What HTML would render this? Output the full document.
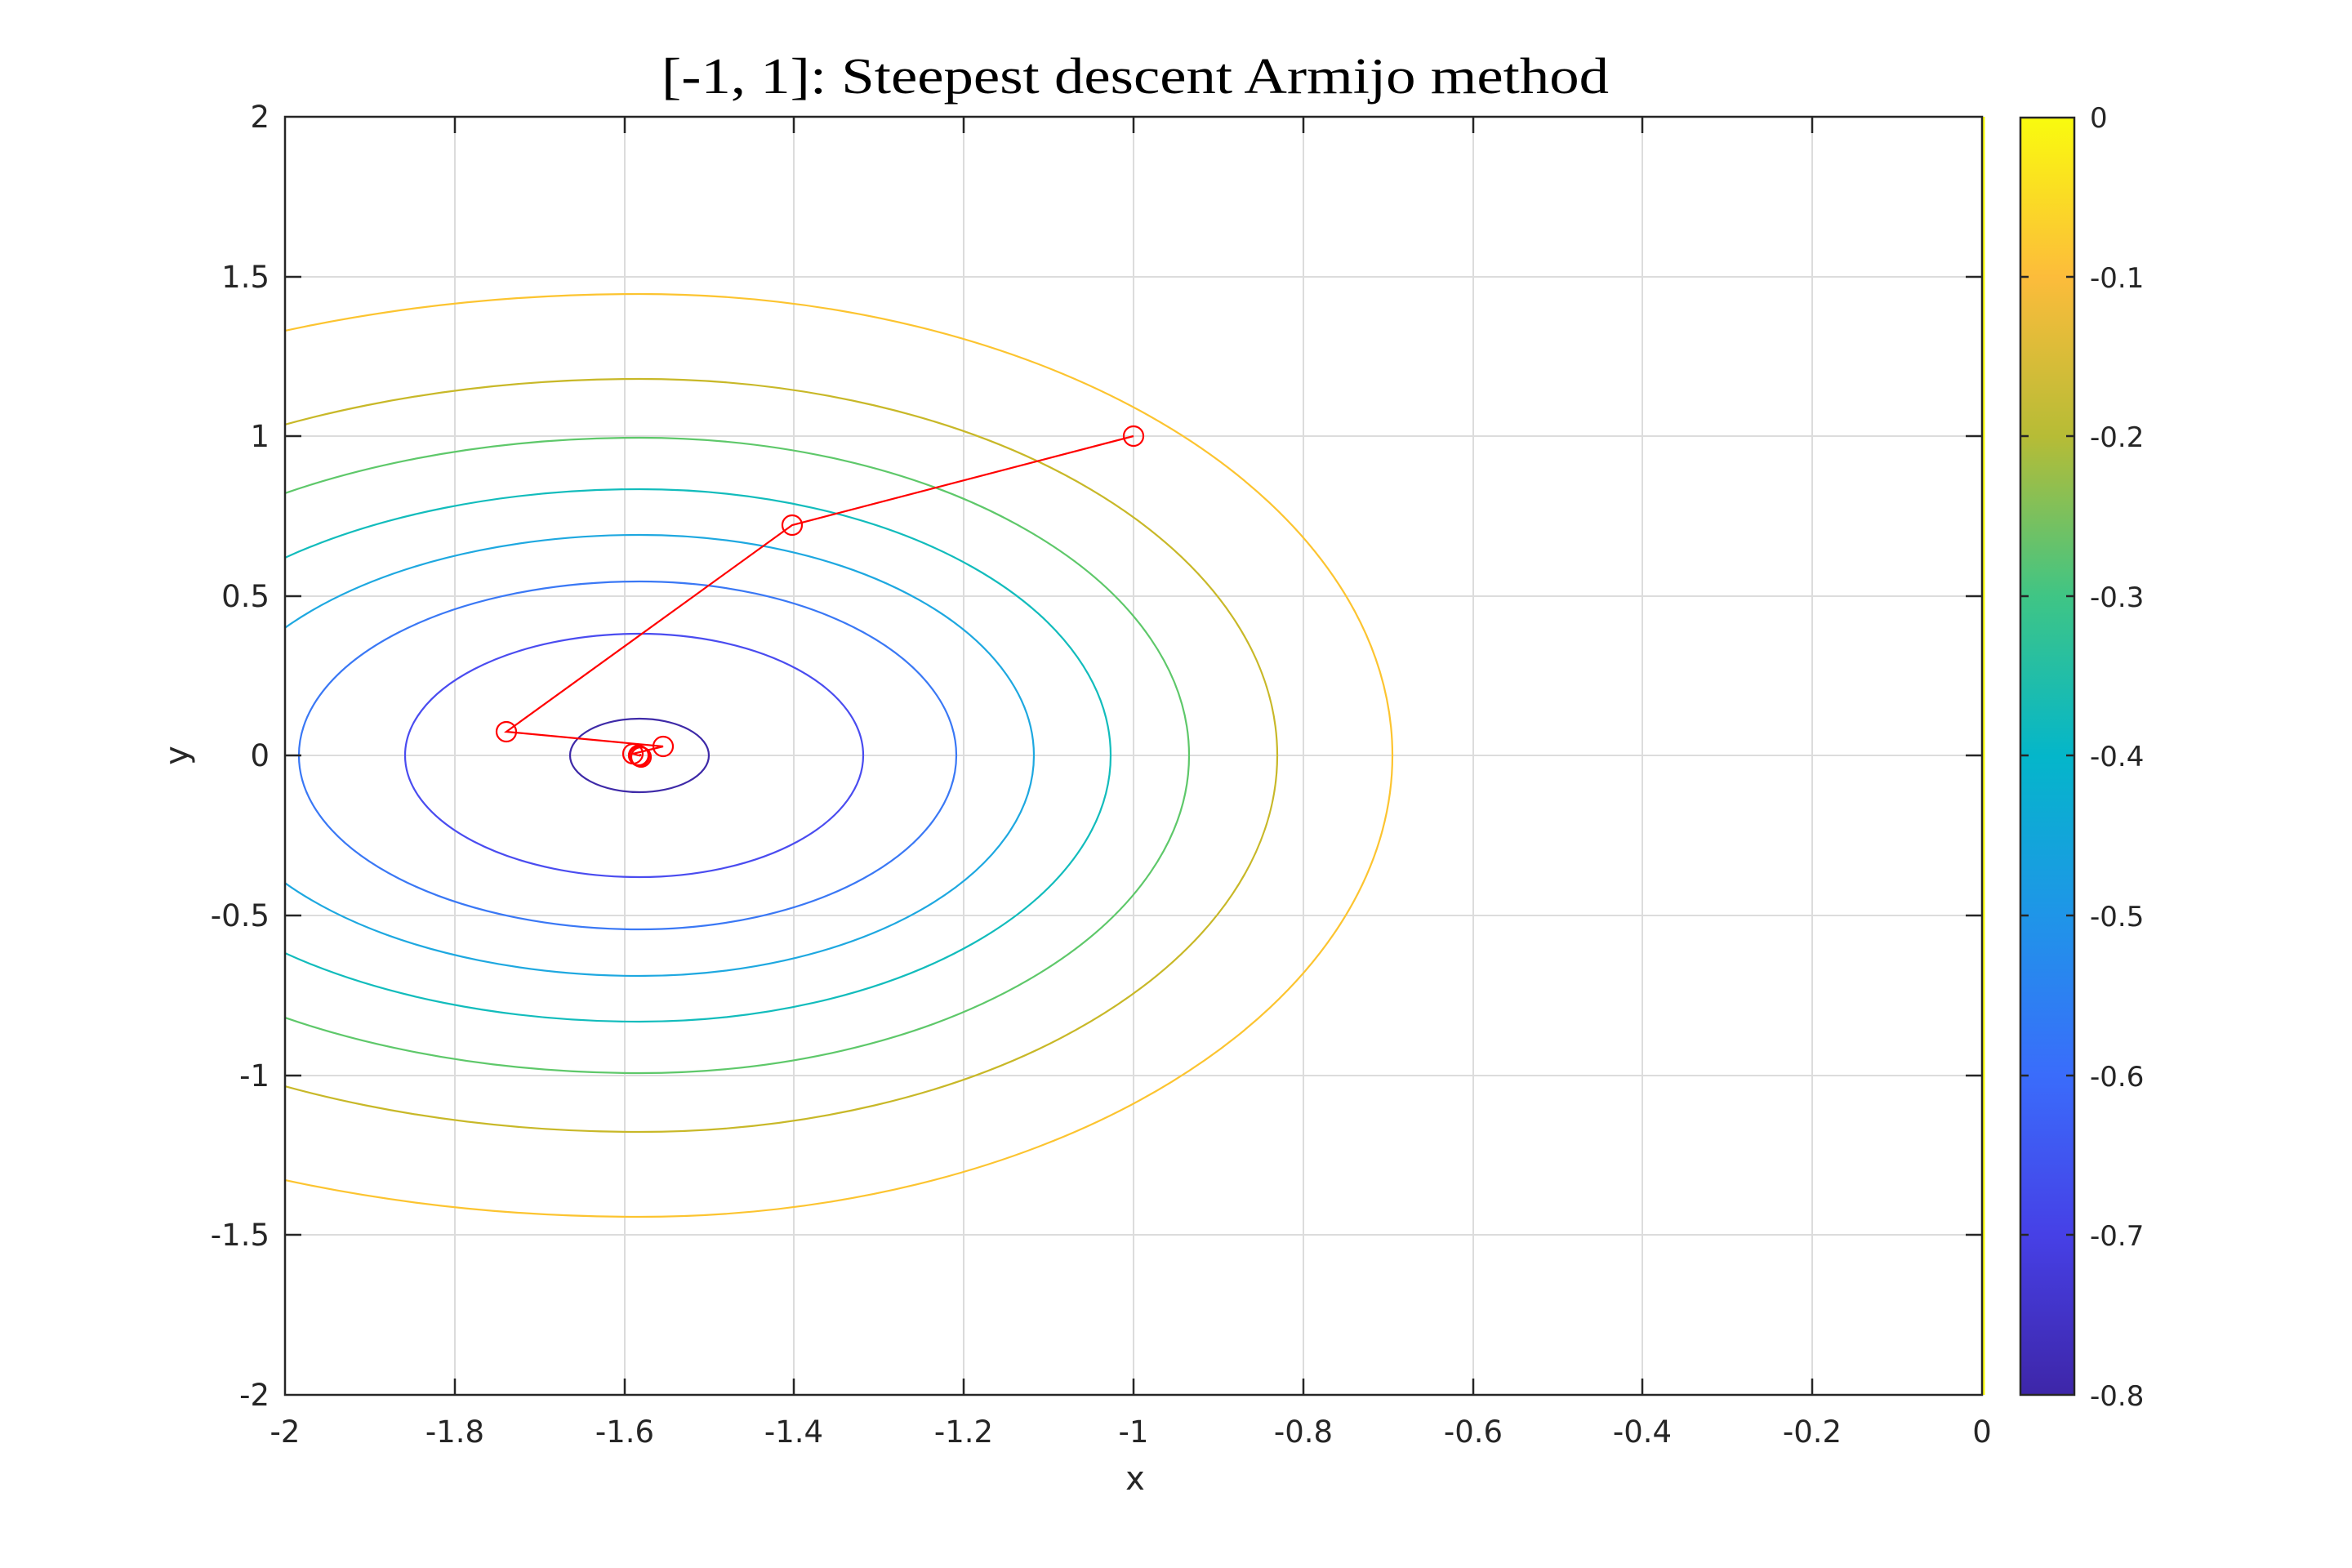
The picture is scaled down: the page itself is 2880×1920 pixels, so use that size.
<!DOCTYPE html>
<html><head><meta charset="utf-8"><style>html,body{margin:0;padding:0;background:#fff}svg{display:block}</style></head>
<body>
<svg width="2880" height="1920" viewBox="0 0 2880 1920" xmlns="http://www.w3.org/2000/svg">
<defs>
<clipPath id="ax"><rect x="349" y="143" width="2078" height="1565"/></clipPath>
<linearGradient id="cb" x1="0" y1="1" x2="0" y2="0">
<stop offset="0" stop-color="#3e26a8"/>
<stop offset="0.125" stop-color="#4640e6"/>
<stop offset="0.25" stop-color="#3a6cfb"/>
<stop offset="0.375" stop-color="#1f95e8"/>
<stop offset="0.5" stop-color="#04b6ca"/>
<stop offset="0.625" stop-color="#3fc585"/>
<stop offset="0.75" stop-color="#b6bc36"/>
<stop offset="0.875" stop-color="#fcbc3b"/>
<stop offset="1" stop-color="#f9fb0e"/>
</linearGradient>
</defs>
<rect width="2880" height="1920" fill="#fff"/>
<!-- grid -->
<g stroke="#dcdcdc" stroke-width="2">
<line x1="557" y1="143" x2="557" y2="1708"/><line x1="765" y1="143" x2="765" y2="1708"/>
<line x1="972" y1="143" x2="972" y2="1708"/><line x1="1180" y1="143" x2="1180" y2="1708"/>
<line x1="1388" y1="143" x2="1388" y2="1708"/><line x1="1596" y1="143" x2="1596" y2="1708"/>
<line x1="1804" y1="143" x2="1804" y2="1708"/><line x1="2011" y1="143" x2="2011" y2="1708"/>
<line x1="2219" y1="143" x2="2219" y2="1708"/>
<line x1="349" y1="339" x2="2427" y2="339"/><line x1="349" y1="534" x2="2427" y2="534"/>
<line x1="349" y1="730" x2="2427" y2="730"/><line x1="349" y1="925" x2="2427" y2="925"/>
<line x1="349" y1="1121" x2="2427" y2="1121"/><line x1="349" y1="1317" x2="2427" y2="1317"/>
<line x1="349" y1="1512" x2="2427" y2="1512"/>
</g>
<!-- contours -->
<g clip-path="url(#ax)" fill="none" stroke-width="2.2">
<path d="M698,925 A85,45 0 0 1 868,925 A85,45 0 0 1 698,925Z" stroke="#3e2aa8"/>
<path d="M496,925 A287,149 0 0 1 783,776 A274,149 0 0 1 1057,925 A274,149 0 0 1 783,1074 A287,149 0 0 1 496,925Z" stroke="#4a4cf0"/>
<path d="M366,925 A417,213 0 0 1 783,712 A388,213 0 0 1 1171,925 A388,213 0 0 1 783,1138 A417,213 0 0 1 366,925Z" stroke="#3a78f5"/>
<path d="M251,925 A532,270 0 0 1 783,655 A483,270 0 0 1 1266,925 A483,270 0 0 1 783,1195 A532,270 0 0 1 251,925Z" stroke="#1ea8e0"/>
<path d="M135,925 A648,326 0 0 1 783,599 A577,326 0 0 1 1360,925 A577,326 0 0 1 783,1251 A648,326 0 0 1 135,925Z" stroke="#12bcbc"/>
<path d="M15,925 A768,389 0 0 1 783,536 A673,389 0 0 1 1456,925 A673,389 0 0 1 783,1314 A768,389 0 0 1 15,925Z" stroke="#5ec86a"/>
<path d="M-126,925 A909,461 0 0 1 783,464 A781,461 0 0 1 1564,925 A781,461 0 0 1 783,1386 A909,461 0 0 1 -126,925Z" stroke="#c8b828"/>
<path d="M-327,925 A1110,565 0 0 1 783,360 A922,565 0 0 1 1705,925 A922,565 0 0 1 783,1490 A1110,565 0 0 1 -327,925Z" stroke="#fcc430"/>
</g>
<!-- path -->
<g fill="none" stroke="#ff0000" stroke-width="2.2">
<polyline points="1388,534 970,643 620,896 812,914 775,923 782,925 785,924 783,926"/>
<circle cx="1388" cy="534" r="12"/><circle cx="970" cy="643" r="12"/>
<circle cx="620" cy="896" r="12"/><circle cx="812" cy="914" r="12"/>
<circle cx="775" cy="923" r="12"/><circle cx="782" cy="925" r="12"/>
<circle cx="785" cy="927" r="12"/><circle cx="783" cy="926" r="12"/>
</g>
<line x1="2429" y1="143" x2="2429" y2="1708" stroke="#f9fb0e" stroke-width="3"/>
<!-- axes box & ticks -->
<rect x="349" y="143" width="2078" height="1565" fill="none" stroke="#262626" stroke-width="2.5"/>
<g stroke="#262626" stroke-width="2.5">
<path d="M557,143v20M765,143v20M972,143v20M1180,143v20M1388,143v20M1596,143v20M1804,143v20M2011,143v20M2219,143v20"/>
<path d="M557,1708v-20M765,1708v-20M972,1708v-20M1180,1708v-20M1388,1708v-20M1596,1708v-20M1804,1708v-20M2011,1708v-20M2219,1708v-20"/>
<path d="M349,339h20M349,534h20M349,730h20M349,925h20M349,1121h20M349,1317h20M349,1512h20"/>
<path d="M2427,339h-20M2427,534h-20M2427,730h-20M2427,925h-20M2427,1121h-20M2427,1317h-20M2427,1512h-20"/>
</g>
<g font-family="'DejaVu Sans','Liberation Sans',sans-serif" font-size="37" fill="#262626">
<g text-anchor="middle">
<text x="349" y="1766">-2</text><text x="557" y="1766">-1.8</text><text x="765" y="1766">-1.6</text>
<text x="972" y="1766">-1.4</text><text x="1180" y="1766">-1.2</text><text x="1388" y="1766">-1</text>
<text x="1596" y="1766">-0.8</text><text x="1804" y="1766">-0.6</text><text x="2011" y="1766">-0.4</text>
<text x="2219" y="1766">-0.2</text><text x="2427" y="1766">0</text>
<text x="1390" y="1824" font-size="40">x</text>
</g>
<g text-anchor="end">
<text x="330" y="156">2</text><text x="330" y="352">1.5</text><text x="330" y="547">1</text>
<text x="330" y="743">0.5</text><text x="330" y="938">0</text><text x="330" y="1134">-0.5</text>
<text x="330" y="1330">-1</text><text x="330" y="1525">-1.5</text><text x="330" y="1721">-2</text>
</g>
<text x="0" y="0" font-size="40" text-anchor="middle" transform="translate(230,925) rotate(-90)">y</text>
<g font-size="34">
<text x="2559" y="156">0</text><text x="2559" y="352">-0.1</text><text x="2559" y="547">-0.2</text>
<text x="2559" y="743">-0.3</text><text x="2559" y="938">-0.4</text><text x="2559" y="1134">-0.5</text>
<text x="2559" y="1330">-0.6</text><text x="2559" y="1525">-0.7</text><text x="2559" y="1721">-0.8</text>
</g>
</g>
<!-- colorbar -->
<rect x="2474" y="144" width="66" height="1564" fill="url(#cb)" stroke="#262626" stroke-width="2.5"/>
<g stroke="#262626" stroke-width="2.5">
<path d="M2474,339h10M2474,534h10M2474,730h10M2474,925h10M2474,1121h10M2474,1317h10M2474,1512h10"/>
<path d="M2540,339h-10M2540,534h-10M2540,730h-10M2540,925h-10M2540,1121h-10M2540,1317h-10M2540,1512h-10"/>
</g>
<text x="1390" y="114" font-family="'Liberation Serif',serif" font-size="62" text-anchor="middle" textLength="1160" lengthAdjust="spacingAndGlyphs" fill="#000">[-1, 1]: Steepest descent Armijo method</text>
</svg>
</body></html>
